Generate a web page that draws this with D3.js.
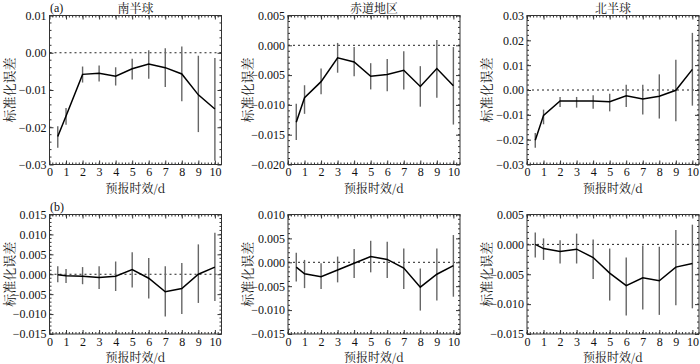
<!DOCTYPE html>
<html><head><meta charset="utf-8">
<script src="https://cdn.jsdelivr.net/npm/d3@7"></script>
<style>body{margin:0;background:#fff}svg{display:block}</style>
</head><body><svg id="c" width="700" height="364"></svg>
<script>
const xVals = [0.5,1,2,3,4,5,6,7,8,9,10];
const xTicks = [0,1,2,3,4,5,6,7,8,9,10];
const regions = ["南半球","赤道地区","北半球"];
const rowLabels = ["(a)","(b)"];
const yLabel = "标准化误差";
const xLabel = "预报时效/d";

// Row (a)
const aSH = [-0.0225,-0.0170,-0.0058,-0.0055,-0.0063,-0.0043,-0.0030,-0.0040,-0.0057,-0.0113,-0.0151];
const aSHlo = [-0.0255,-0.0193,-0.0080,-0.0077,-0.0088,-0.0072,-0.0070,-0.0092,-0.0130,-0.0213,-0.0290];
const aSHhi = [-0.0197,-0.0148,-0.0037,-0.0034,-0.0039,-0.0016,0.0007,0.0012,0.0017,-0.0008,-0.0014];
const aEQ = [-0.0129,-0.0088,-0.0061,-0.0021,-0.0028,-0.0052,-0.0049,-0.0042,-0.0069,-0.0039,-0.0068];
const aEQlo = [-0.0159,-0.0115,-0.0082,-0.0046,-0.0052,-0.0074,-0.0077,-0.0074,-0.0103,-0.0088,-0.0133];
const aEQhi = [-0.0098,-0.0067,-0.0039,0.0004,-0.0003,-0.0030,-0.0023,-0.0010,-0.0035,0.0009,-0.0003];
const aNH = [-0.0202,-0.0102,-0.0044,-0.0044,-0.0044,-0.0047,-0.0023,-0.0036,-0.0025,-0.0001,0.0083];
const aNHlo = [-0.0233,-0.0138,-0.0068,-0.0071,-0.0075,-0.0086,-0.0068,-0.0099,-0.0115,-0.0126,-0.0063];
const aNHhi = [-0.0173,-0.0079,-0.0028,-0.0028,-0.0021,-0.0015,0.0021,0.0021,0.0063,0.0122,0.0230];
// Row (b)
const bSH = [-0.0001,-0.0004,-0.0005,-0.0008,-0.0005,0.0012,-0.0010,-0.0044,-0.0036,0.0000,0.0018];
const bSHlo = [-0.0020,-0.0022,-0.0025,-0.0037,-0.0042,-0.0033,-0.0061,-0.0106,-0.0100,-0.0072,-0.0067];
const bSHhi = [0.0020,0.0013,0.0018,0.0020,0.0032,0.0055,0.0041,0.0020,0.0028,0.0075,0.0104];
const bEQ = [-0.0010,-0.0024,-0.0030,-0.0016,-0.0002,0.0012,0.0006,-0.0012,-0.0052,-0.0025,-0.0007];
const bEQlo = [-0.0040,-0.0054,-0.0056,-0.0042,-0.0033,-0.0021,-0.0033,-0.0056,-0.0101,-0.0080,-0.0072];
const bEQhi = [0.0020,0.0005,-0.0002,0.0012,0.0028,0.0045,0.0043,0.0029,-0.0013,0.0029,0.0057];
const bNH = [0.0000,-0.0007,-0.0012,-0.0008,-0.0022,-0.0048,-0.0069,-0.0056,-0.0061,-0.0038,-0.0032];
const bNHlo = [-0.0022,-0.0026,-0.0032,-0.0032,-0.0058,-0.0094,-0.0119,-0.0109,-0.0118,-0.0102,-0.0107];
const bNHhi = [0.0020,0.0010,0.0007,0.0018,0.0008,-0.0007,-0.0022,-0.0002,-0.0004,0.0024,0.0033];

const yTicksA1 = [0.01,0.00,-0.01,-0.02,-0.03];
const yTicksA2 = [0.005,0.000,-0.005,-0.010,-0.015,-0.020];
const yTicksA3 = [0.03,0.02,0.01,0.00,-0.01,-0.02,-0.03];
const yTicksB1 = [0.015,0.010,0.005,0.000,-0.005,-0.010,-0.015];
const yTicksB2 = [0.010,0.005,0.000,-0.005,-0.010,-0.015];
const yTicksB3 = [0.005,0.000,-0.005,-0.010,-0.015];

const panels = [
  {row:0,col:0,v:aSH,lo:aSHlo,hi:aSHhi,ticks:yTicksA1,dec:2},
  {row:0,col:1,v:aEQ,lo:aEQlo,hi:aEQhi,ticks:yTicksA2,dec:3},
  {row:0,col:2,v:aNH,lo:aNHlo,hi:aNHhi,ticks:yTicksA3,dec:2},
  {row:1,col:0,v:bSH,lo:bSHlo,hi:bSHhi,ticks:yTicksB1,dec:3},
  {row:1,col:1,v:bEQ,lo:bEQlo,hi:bEQhi,ticks:yTicksB2,dec:3},
  {row:1,col:2,v:bNH,lo:bNHlo,hi:bNHhi,ticks:yTicksB3,dec:3}
];

const svg = d3.select("#c");
const lefts = [49.5, 288, 527];
const W = 172;
const rows = [{top:15.5,bottom:164.5},{top:214.5,bottom:334}];
const font = "'Liberation Serif','Times New Roman','Noto Sans CJK SC',serif";
const cjk = "'Noto Serif CJK SC','Noto Sans CJK SC',sans-serif";
const fmt = (v,d)=> (v<0?"\u2212":"") + Math.abs(v).toFixed(d);

panels.forEach(p=>{
  const L = lefts[p.col], R = rows[p.row];
  const x = d3.scaleLinear().domain([0,10.4]).range([L, L+W]);
  const ymax = d3.max(p.ticks), ymin = d3.min(p.ticks);
  const y = d3.scaleLinear().domain([ymin,ymax]).range([R.bottom, R.top]);
  const g = svg.append("g");
  const step = Math.abs(p.ticks[0]-p.ticks[1]);

  // zero line
  g.append("line").attr("x1",x(0)).attr("x2",x(10.4)).attr("y1",y(0)).attr("y2",y(0))
    .attr("stroke","#222").attr("stroke-width",1).attr("stroke-dasharray","2,3");

  // frame
  g.append("rect").attr("x",L).attr("y",R.top).attr("width",W).attr("height",R.bottom-R.top)
    .attr("fill","none").attr("stroke","#333").attr("stroke-width",1);

  // minor y ticks
  const yMinor = d3.range(0, Math.round((ymax-ymin)/(step/5))+1).map(i=>ymin+i*step/5);
  yMinor.forEach(t=>{
    g.append("line").attr("x1",L).attr("x2",L+2).attr("y1",y(t)).attr("y2",y(t)).attr("stroke","#333");
    g.append("line").attr("x1",L+W).attr("x2",L+W-2).attr("y1",y(t)).attr("y2",y(t)).attr("stroke","#333");
  });
  const xMinor = d3.range(0,53).map(i=>i*0.2);
  xMinor.forEach(t=>{
    g.append("line").attr("x1",x(t)).attr("x2",x(t)).attr("y1",R.bottom).attr("y2",R.bottom-2).attr("stroke","#333");
    g.append("line").attr("x1",x(t)).attr("x2",x(t)).attr("y1",R.top).attr("y2",R.top+2).attr("stroke","#333");
  });

  // major axes
  const yAxis = d3.axisLeft(y).tickValues(p.ticks).tickSizeInner(-4).tickSizeOuter(0)
    .tickFormat(d=>fmt(d,p.dec)).tickPadding(3);
  const ya = g.append("g").attr("transform",`translate(${L},0)`).call(yAxis);
  ya.select(".domain").remove();
  ya.selectAll("text").attr("font-family",font).attr("font-size",12).attr("fill","#111");
  ya.selectAll("line").attr("stroke","#333");
  const yr = g.append("g").attr("transform",`translate(${L+W},0)`).call(d3.axisRight(y).tickValues(p.ticks).tickSizeInner(-4).tickSizeOuter(0).tickFormat(""));
  yr.select(".domain").remove(); yr.selectAll("line").attr("stroke","#333");

  const xAxis = d3.axisBottom(x).tickValues(xTicks).tickSizeInner(-4).tickSizeOuter(0).tickPadding(3);
  const xa = g.append("g").attr("transform",`translate(0,${R.bottom})`).call(xAxis);
  xa.select(".domain").remove();
  xa.selectAll("text").attr("font-family",font).attr("font-size",12).attr("fill","#111");
  xa.selectAll("line").attr("stroke","#333");
  const xt = g.append("g").attr("transform",`translate(0,${R.top})`).call(d3.axisTop(x).tickValues(xTicks).tickSizeInner(-4).tickSizeOuter(0).tickFormat(""));
  xt.select(".domain").remove(); xt.selectAll("line").attr("stroke","#333");

  // error bars
  g.selectAll(".eb").data(xVals).enter().append("line")
    .attr("x1",d=>x(d)).attr("x2",d=>x(d))
    .attr("y1",(d,i)=>y(p.lo[i])).attr("y2",(d,i)=>y(p.hi[i]))
    .attr("stroke","#666").attr("stroke-width",1.4);

  // main line
  g.append("path").datum(xVals).attr("fill","none").attr("stroke","#000").attr("stroke-width",1.5)
    .attr("d", d3.line().x(d=>x(d)).y((d,i)=>y(p.v[i])));

  // axis titles
  g.append("text").attr("x",L+W/2).attr("y",R.bottom+28).attr("text-anchor","middle")
    .attr("font-family",cjk).attr("font-size",12).attr("fill","#111").text(xLabel);
  g.append("text").attr("transform",`translate(${L-39},${(R.top+R.bottom)/2}) rotate(-90)`)
    .attr("text-anchor","middle").attr("dominant-baseline","middle")
    .attr("font-family",cjk).attr("font-size",13).attr("fill","#111").text(yLabel);
  if(p.row===0){
    g.append("text").attr("x",L+W/2).attr("y",13).attr("text-anchor","middle")
      .attr("font-family",cjk).attr("font-size",12).attr("fill","#111").text(regions[p.col]);
  }
  if(p.col===0){
    g.append("text").attr("x",L+0.5).attr("y",R.top-4).attr("font-family",font)
      .attr("font-size",12).attr("fill","#111").text(rowLabels[p.row]);
  }
});
</script></body></html>
